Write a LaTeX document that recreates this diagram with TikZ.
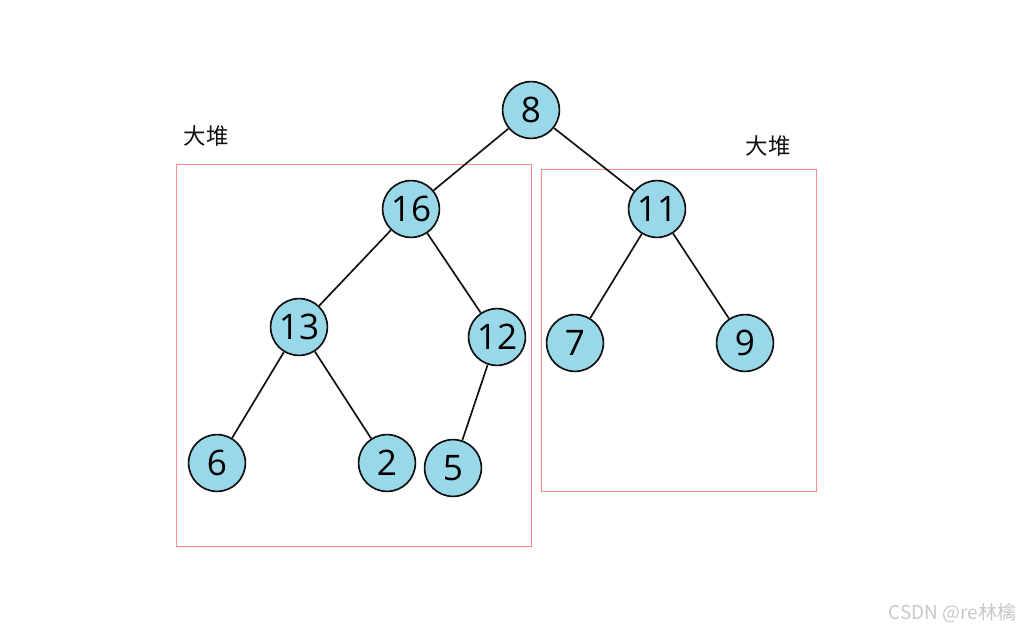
\documentclass[tikz,border=0pt]{standalone}
\usepackage{fontspec}
\setmainfont{Open Sans}
\newfontfamily\cjkfont{Noto Sans CJK SC}
\usepackage{xcolor}
\definecolor{ink}{HTML}{111111}
\definecolor{nodefill}{HTML}{99D8E9}
\definecolor{heapframe}{HTML}{FF8A8A}
\definecolor{markc}{HTML}{C8C8C8}
\usepackage{tikz}
\usetikzlibrary{positioning}

\begin{document}
\begin{tikzpicture}[x=0.025cm,y=-0.025cm,every node/.style={font=\fontsize{25}{25}\selectfont}]
\tikzstyle{num}=[circle,draw=ink,line width=1.2pt,fill=nodefill,minimum size=1.42cm,inner sep=0pt]
\tikzstyle{edge}=[ink,line width=1.2pt]
\tikzstyle{frame}=[draw=heapframe,line width=0.7pt]
\tikzstyle{tag}=[font=\cjkfont\fontsize{16}{16}\selectfont,text=ink]
\useasboundingbox (0,0) rectangle (1025,632);
% heap frames
\draw[frame] (176,164) rectangle (531,546);
\draw[frame] (541,169) rectangle (816,491);
\node[tag] (tagl) at (206,136) {大堆};
\node[tag] (tagr) at (768,146) {大堆};
% tree
\node[num] (n8) at (531,110) {8};
\node[num] (n16) at (411,209) {16};
\node[num] (n11) at (657,209) {11};
\node[num] (n13) at (299,327) {13};
\node[num] (n12) at (497,337) {12};
\node[num] (n7) at (575,343) {7};
\node[num] (n9) at (745,343) {9};
\node[num] (n6) at (217,463) {6};
\node[num] (n2) at (387,463) {2};
\node[num] (n5) at (453,468) {5};
\draw[edge] (n8)--(n16);
\draw[edge] (n8)--(n11);
\draw[edge] (n16)--(n13);
\draw[edge] (n16)--(n12);
\draw[edge] (n11)--(n7);
\draw[edge] (n11)--(n9);
\draw[edge] (n13)--(n6);
\draw[edge] (n13)--(n2);
\draw[edge] (n12)--(n5);
\node[font=\cjkfont\fontsize{13.5}{13.5}\selectfont,text=markc,anchor=east] (mark) at (1021,613) {CSDN @re林檎};
\end{tikzpicture}
\end{document}
